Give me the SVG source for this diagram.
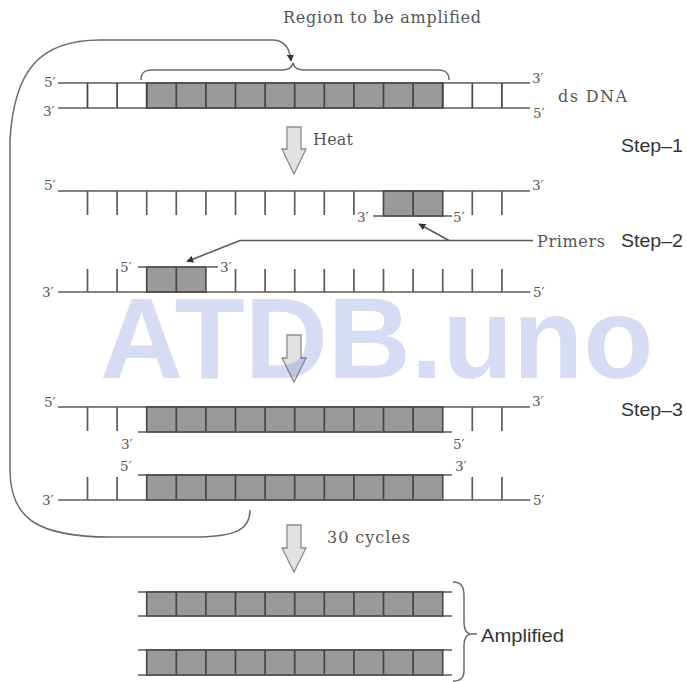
<svg xmlns="http://www.w3.org/2000/svg" width="687" height="682" viewBox="0 0 687 682">
<style>
.bg{fill:#fff}
.ln{stroke:#5a5a5a;stroke-width:1.6;fill:none}
.cl{stroke:#454545;stroke-width:1.7;fill:none}
.tk{stroke:#5a5a5a;stroke-width:1.7;fill:none}
.gr{fill:#9a9a9a;stroke:#454545;stroke-width:1.6}
.lb{font-family:"DejaVu Serif","Liberation Serif",serif;font-size:13.5px;fill:#555}
.sl{font-family:"DejaVu Serif","Liberation Serif",serif;font-size:16px;fill:#555}
.st{font-family:"Liberation Sans",Arial,sans-serif;font-size:18.5px;fill:#333}
.ar{fill:#e2e2e2;stroke:#8a8a8a;stroke-width:1.3}
.cv{stroke:#6a6a6a;stroke-width:1.5;fill:none}
.wm{font-family:"Liberation Sans",Arial,sans-serif;font-weight:bold;font-size:115px;fill:#3c5ac8;fill-opacity:0.21}
</style>
<defs>
<marker id="ah" viewBox="0 0 10 10" refX="9" refY="5" markerWidth="7" markerHeight="7" markerUnits="userSpaceOnUse" orient="auto">
<path d="M0,0 L10,5 L0,10 Z" fill="#333"/>
</marker>
</defs>
<rect class="bg" width="687" height="682"/>

<text class="sl" x="283" y="23" textLength="198" lengthAdjust="spacing">Region to be amplified</text>

<g id="ds-dna">
<line class="ln" x1="58" y1="83" x2="530" y2="83"/>
<line class="ln" x1="58" y1="108" x2="530" y2="108"/>
<rect class="gr" x="146.7" y="83" width="296" height="25"/>
<path class="cl" d="M87.5 83V108M117.1 83V108M146.7 83V108M176.3 83V108M205.9 83V108M235.5 83V108M265.1 83V108M294.7 83V108M324.3 83V108M353.9 83V108M383.5 83V108M413.1 83V108M442.7 83V108M472.3 83V108M501.9 83V108"/>
<text class="lb" x="44" y="87">5′</text>
<text class="lb" x="43" y="116">3′</text>
<text class="lb" x="532" y="83">3′</text>
<text class="lb" x="533" y="118">5′</text>
<text class="sl" x="558" y="102" textLength="69" lengthAdjust="spacing">ds DNA</text>
</g>

<g id="region-brace">
<path class="cv" d="M141 80 C141 73,144 70,152 70 L282 70 C289 70,292 67,293 63 C294 67,297 70,304 70 L438 70 C446 70,449 73,449 80"/>
</g>

<g id="step1-label"><text class="st" x="621" y="152" textLength="62" lengthAdjust="spacingAndGlyphs">Step–1</text></g>
<g id="step2-label"><text class="st" x="621" y="247" textLength="62" lengthAdjust="spacingAndGlyphs">Step–2</text></g>
<g id="step3-label"><text class="st" x="621" y="416" textLength="62" lengthAdjust="spacingAndGlyphs">Step–3</text></g>

<g id="strand-top">
<line class="ln" x1="58" y1="191" x2="530" y2="191"/>
<path class="tk" d="M87.5 191V215M117.1 191V215M146.7 191V215M176.3 191V215M205.9 191V215M235.5 191V215M265.1 191V215M294.7 191V215M324.3 191V215M353.9 191V215M472.3 191V215M501.9 191V215"/>
<text class="lb" x="44" y="190">5′</text>
<text class="lb" x="532" y="190">3′</text>
</g>
<g id="primer-right">
<rect class="gr" x="383.5" y="191" width="59.2" height="25"/>
<line class="cl" x1="413.1" y1="191" x2="413.1" y2="216"/>
<line class="ln" x1="373" y1="216" x2="452" y2="216"/>
<text class="lb" x="357" y="222">3′</text>
<text class="lb" x="453" y="222">5′</text>
</g>

<g id="strand-bottom">
<line class="ln" x1="58" y1="292" x2="530" y2="292"/>
<path class="tk" d="M87.5 269V292M117.1 269V292M235.5 269V292M265.1 269V292M294.7 269V292M324.3 269V292M353.9 269V292M383.5 269V292M413.1 269V292M442.7 269V292M472.3 269V292M501.9 269V292"/>
<text class="lb" x="42" y="297">3′</text>
<text class="lb" x="533" y="297">5′</text>
</g>
<g id="primer-left">
<rect class="gr" x="146.7" y="267" width="59.2" height="25"/>
<line class="cl" x1="176.3" y1="267" x2="176.3" y2="292"/>
<line class="ln" x1="138" y1="267" x2="218" y2="267"/>
<text class="lb" x="120" y="272">5′</text>
<text class="lb" x="220" y="272">3′</text>
</g>

<g id="primers-label"><text class="sl" x="537" y="247" textLength="68" lengthAdjust="spacing">Primers</text></g>

<g id="step3-strand1">
<line class="ln" x1="58" y1="407" x2="530" y2="407"/>
<rect class="gr" x="146.7" y="407" width="296" height="25"/>
<path class="cl" d="M176.3 407V432M205.9 407V432M235.5 407V432M265.1 407V432M294.7 407V432M324.3 407V432M353.9 407V432M383.5 407V432M413.1 407V432"/>
<path class="tk" d="M87.5 407V431M117.1 407V431M472.3 407V431M501.9 407V431"/>
<line class="ln" x1="138" y1="432" x2="452" y2="432"/>
<text class="lb" x="44" y="407">5′</text>
<text class="lb" x="532" y="406">3′</text>
<text class="lb" x="121" y="449">3′</text>
<text class="lb" x="453" y="449">5′</text>
</g>

<g id="step3-strand2">
<line class="ln" x1="138" y1="475" x2="452" y2="475"/>
<rect class="gr" x="146.7" y="475" width="296" height="25"/>
<path class="cl" d="M176.3 475V500M205.9 475V500M235.5 475V500M265.1 475V500M294.7 475V500M324.3 475V500M353.9 475V500M383.5 475V500M413.1 475V500"/>
<line class="ln" x1="58" y1="500" x2="530" y2="500"/>
<path class="tk" d="M87.5 477V500M117.1 477V500M472.3 477V500M501.9 477V500"/>
<text class="lb" x="120" y="471">5′</text>
<text class="lb" x="455" y="471">3′</text>
<text class="lb" x="42" y="505">3′</text>
<text class="lb" x="533" y="505">5′</text>
</g>

<g id="amplified-1">
<line class="ln" x1="138" y1="592" x2="452" y2="592"/>
<rect class="gr" x="146.7" y="592" width="296" height="24"/>
<path class="cl" d="M176.3 592V616M205.9 592V616M235.5 592V616M265.1 592V616M294.7 592V616M324.3 592V616M353.9 592V616M383.5 592V616M413.1 592V616"/>
<line class="ln" x1="138" y1="616" x2="452" y2="616"/>
</g>
<g id="amplified-2">
<line class="ln" x1="138" y1="650" x2="452" y2="650"/>
<rect class="gr" x="146.7" y="650" width="296" height="25"/>
<path class="cl" d="M176.3 650V675M205.9 650V675M235.5 650V675M265.1 650V675M294.7 650V675M324.3 650V675M353.9 650V675M383.5 650V675M413.1 650V675"/>
<line class="ln" x1="138" y1="675" x2="452" y2="675"/>
</g>

<g id="amplified-brace">
<path class="cv" d="M453 582 C461 582,464 586,464 596 L464 622 C464 630,466 633,470 634 L477 634 M470 634 C466 635,464 638,464 646 L464 670 C464 678,461 681,453 681"/>
<text class="st" x="481" y="642" textLength="83" lengthAdjust="spacingAndGlyphs">Amplified</text>
</g>

<g id="connectors">
<path class="cv" d="M250 510 C250 530,235 536,200 537 L110 537 C40 537,10 520,10 470 L10 140 C14 70,40 40,100 40 L272 40 C285 40,290 50,291 61" marker-end="url(#ah)"/>
<polygon class="ar" points="287,127 301,127 301,149 306,149 294,174 282,149 287,149"/>
<text class="sl" x="313" y="145" textLength="40" lengthAdjust="spacing">Heat</text>
<polyline class="ln" points="533,240.5 240,240.5 187,261.5" marker-end="url(#ah)"/>
<line class="ln" x1="449" y1="240.5" x2="419" y2="224" marker-end="url(#ah)"/>
<polygon class="ar" points="287,335 301,335 301,358 306,358 294,382 282,358 287,358"/>
<polygon class="ar" points="287,525 301,525 301,548 306,548 294,572 282,548 287,548"/>
<text class="sl" x="327" y="543" textLength="83" lengthAdjust="spacing">30 cycles</text>
</g>

<text class="wm" x="100" y="378">ATDB.uno</text>
</svg>
